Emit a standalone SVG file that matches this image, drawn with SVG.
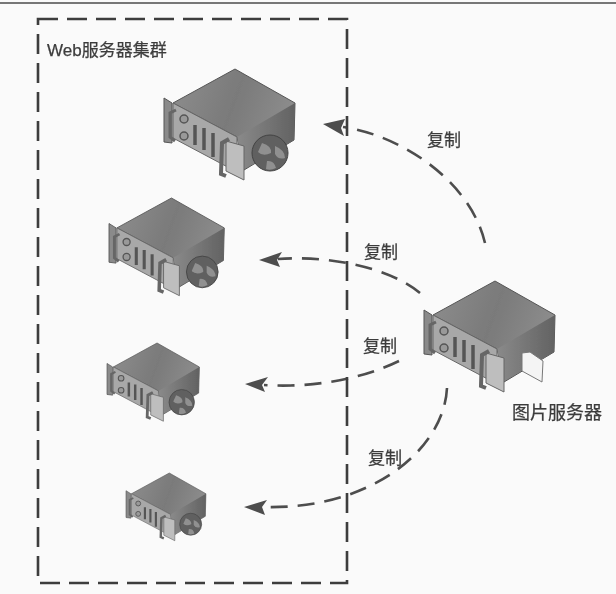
<svg xmlns="http://www.w3.org/2000/svg" xmlns:xlink="http://www.w3.org/1999/xlink" width="616" height="594" viewBox="0 0 616 594">
<style>
.t{font-family:"Liberation Sans","Noto Sans CJK SC",sans-serif;fill:#3c3c3c;stroke:#3c3c3c;stroke-width:.25}
.c{fill:none;stroke:#4d4d4d;stroke-width:2.6;stroke-dasharray:17 10}
.ah{fill:#4d4d4d}
</style>
<defs>
<filter id="b" x="-5%" y="-5%" width="110%" height="110%"><feGaussianBlur stdDeviation="0.7"/></filter>
<linearGradient id="top" x1="0" y1="0" x2="1" y2="0.3"><stop offset="0" stop-color="#8e8e8e"/><stop offset="0.55" stop-color="#7a7a7a"/><stop offset="1" stop-color="#8c8c8c"/></linearGradient>
<linearGradient id="side" x1="0" y1="0" x2="1" y2="0"><stop offset="0" stop-color="#8a8a8a"/><stop offset="1" stop-color="#626262"/></linearGradient>
<g id="srv">
<polygon points="235,69 295,103 294,140 244,170 237,137 173,103" fill="url(#top)" stroke="#555" stroke-width="1"/>
<polygon points="295,103 294,140 244,169 237,137" fill="url(#side)"/>
<polygon points="173,103 237,137 237,172 173,138" fill="#a8a8a8" stroke="#666" stroke-width="1"/>
<polygon points="164,98 172,103 172,143 164,142" fill="#8a8a8a" stroke="#555" stroke-width="1"/>
<path d="M176,110 L170,113 L170,137 L175,141" fill="none" stroke="#666" stroke-width="3"/>
<circle cx="184" cy="119" r="4" fill="#999" stroke="#555" stroke-width="1.5"/>
<circle cx="184" cy="136" r="4" fill="#999" stroke="#555" stroke-width="1.5"/>
<path d="M195,125V145M204,128V150M213,133V157" stroke="#555" stroke-width="3.5" fill="none"/>
<polygon points="226,141 244,146 244,180 226,171" fill="#bebebe" stroke="#666" stroke-width="1"/>
<path d="M229,139 L222,143 L221,174 L226,176" fill="none" stroke="#666" stroke-width="4"/>
</g>
<g id="globe">
<circle cx="270" cy="153" r="18" fill="#606060" stroke="#444" stroke-width="1"/>
<path d="M262,143 Q272,146 271,153 Q263,157 258,152 Z M275,146 Q285,150 285,158 Q278,160 275,154 Z M267,161 Q274,160 276,168 Q270,171 266,169 Z" fill="#909090"/>
</g>
</defs>
<rect width="616" height="594" fill="#fafafa"/>
<rect x="0" y="2" width="616" height="2" fill="#777"/>
<g filter="url(#b)">
<g id="connectors">
<path class="c" d="M485,243C470,180 400,135 343,127"/>
<polygon class="ah" points="323,124 345,119 341,128 344,136"/>
<path class="c" d="M420,293C390,268 330,255 278,259"/>
<polygon class="ah" points="259,260 282,252 277,260 280,267"/>
<path class="c" d="M399,361C360,380 310,388 264,385"/>
<polygon class="ah" points="245,384 268,377 262,385 265,392"/>
<path class="c" d="M447,388C444,450 370,510 264,507"/>
<polygon class="ah" points="244,507 267,500 262,507 265,515"/>
</g>
<g id="cluster">
<rect x="38" y="19" width="309" height="564" fill="none" stroke="#3c3c3c" stroke-width="2.6" stroke-dasharray="20 9"/>
<text class="t" x="47" y="56" font-size="17">Web服务器集群</text>
</g>
<g id="server1"><use xlink:href="#srv"/><use xlink:href="#globe"/></g>
<g id="server2" transform="translate(109 198) scale(.88) translate(-164 -69)"><use xlink:href="#srv"/><use xlink:href="#globe"/></g>
<g id="server3" transform="translate(107 343) scale(.705) translate(-164 -69)"><use xlink:href="#srv"/><use xlink:href="#globe"/></g>
<g id="server4" transform="translate(126 473) scale(.61) translate(-164 -69)"><use xlink:href="#srv"/><use xlink:href="#globe"/></g>
<g id="imageServer">
<g transform="translate(424 281) translate(-164 -69)"><use xlink:href="#srv"/></g>
<polygon points="522,353 530,352 543,361 542,382 522,371" fill="#f4f4f4" stroke="#777" stroke-width="1"/>
<text class="t" x="512" y="419" font-size="18">图片服务器</text>
</g>
<g id="labels">
<text class="t" x="427" y="146" font-size="17">复制</text>
<text class="t" x="364" y="258" font-size="17">复制</text>
<text class="t" x="363" y="352" font-size="17">复制</text>
<text class="t" x="368" y="464" font-size="17">复制</text>
</g>
</g>
</svg>
